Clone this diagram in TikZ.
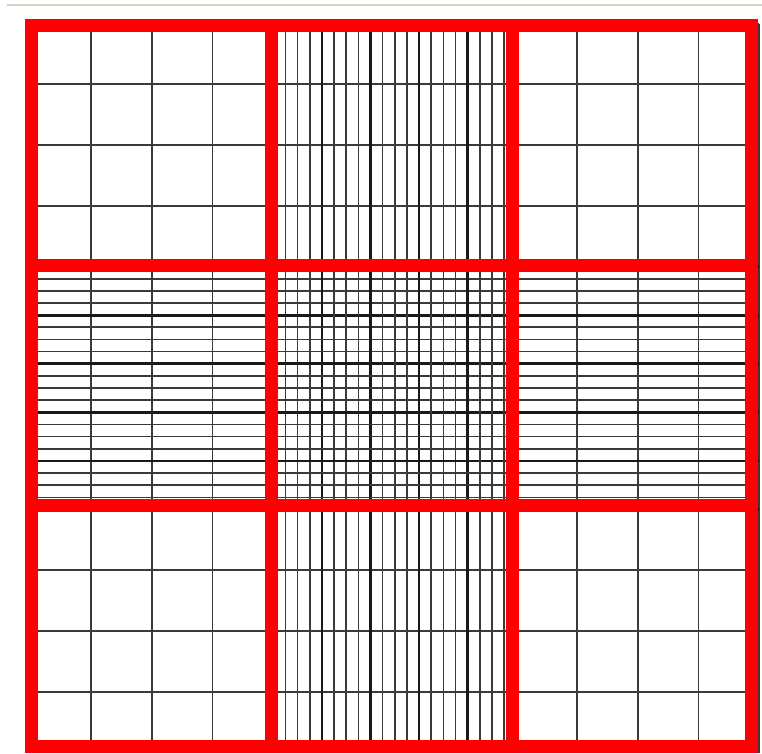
\documentclass[tikz,border=0pt]{standalone}
\usepackage{tikz}
\definecolor{rule}{HTML}{D4D4C0}
\definecolor{gridln}{HTML}{3A3A3A}
\definecolor{frame}{HTML}{FF0000}

\begin{document}
\begin{tikzpicture}[
  x=1pt, y=-1pt,
  topln/.style={draw=rule, line width=2pt},
  coarse/.style={draw=gridln, line width=1.7pt},
  fine/.style={draw=gridln, line width=1.6pt},
  triple/.style={draw=black!90, line width=2.7pt},
  redfr/.style={draw=frame, line width=13pt, line join=miter},
]
\useasboundingbox (0,0) rectangle (762,753);
\fill[white] (0,0) rectangle (762,753);
\draw[topln] (7,5) -- (762,5);

% coarse ruling, 12 x 12 squares over the whole chamber
\foreach \k in {0,...,12}{
  \draw[coarse] (30.25+60.75*\k,23.6) -- (30.25+60.75*\k,752.5);
  \draw[coarse] (30.25,23.6+60.74*\k) -- (759.25,23.6+60.74*\k);
}
% fine ruling of the centre square, carried through its column and row
\foreach \j in {0,...,20}{
  \pgfmathtruncatemacro{\m}{mod(\j,4)}
  \ifnum\m=0
    \draw[triple] (273.25+12.15*\j,23.6) -- (273.25+12.15*\j,752.5);
    \draw[triple] (30.25,266.56+12.15*\j) -- (759.25,266.56+12.15*\j);
  \else
    \draw[fine] (273.25+12.15*\j,23.6) -- (273.25+12.15*\j,752.5);
    \draw[fine] (30.25,266.56+12.15*\j) -- (759.25,266.56+12.15*\j);
  \fi
}

% red 3 x 3 frame
\draw[redfr] (31,25) rectangle (751,746);
\draw[redfr] (271,25) -- (271,746);
\draw[redfr] (512,25) -- (512,746);
\draw[redfr] (31,265) -- (751,265);
\draw[redfr] (31,505.5) -- (751,505.5);
\end{tikzpicture}
\end{document}
